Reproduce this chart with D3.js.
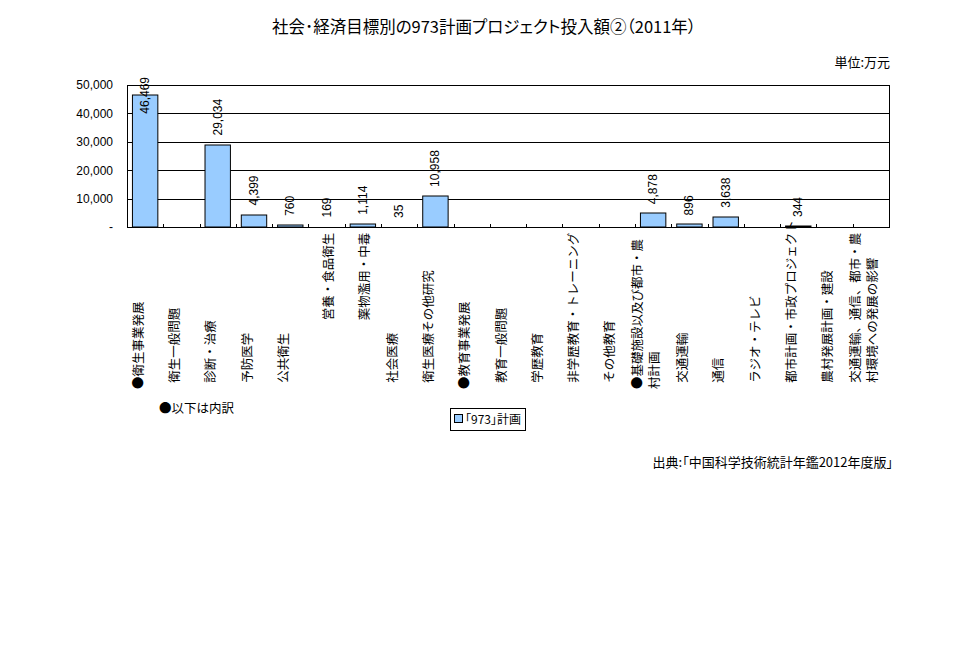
<!DOCTYPE html>
<html>
<head>
<meta charset="utf-8">
<script src="https://cdn.jsdelivr.net/npm/d3@7"></script>
<style>
    body { margin: 0; background: #fff; }
    svg text { font-family: "Noto Sans CJK JP", sans-serif; fill: #000; }
    .jp { font-feature-settings: "palt"; }
    .num { font-family: "Liberation Sans", Arial, sans-serif; }
</style>
</head>
<body>
<svg id="chart" width="960" height="650"></svg>
<script>
// labels as typed in the sheet (indent / line breaks kept)
var categories = [
    "●衛生事業発展",
    "\u2002衛生一般問題",
    "\u2002診断・治療",
    "\u2002予防医学",
    "\u2002公共衛生",
    "\n\u2002\u3000\u3000\u3000\u3000\u3000営養・食品衛生",
    "\n\u2002\u3000\u3000\u3000\u3000\u3000薬物濫用・中毒",
    "\u2002社会医療",
    "\u2002衛生医療その他研究",
    "●教育事業発展",
    "\u2002教育一般問題",
    "\u2002学歴教育",
    "\u2002非学歴教育・トレーニング",
    "\u2002その他教育",
    "●基礎施設以及び都市・農\n村計画",
    "\u2002交通運輸",
    "\u2002通信",
    "\u2002ラジオ・テレビ",
    "\u2002都市計画・市政プロジェクト",
    "\u2002農村発展計画・建設",
    "\u2002交通運輸、通信、都市・農\n\u2002村環境への発展の影響"
];
var values973 = [46469, null, 29034, 4399, 760, 169, 1114, 35, 10958,
                 null, null, null, null, null,
                 4878, 896, 3638, null, 344, null, null];
var yTicks = [0, 10000, 20000, 30000, 40000, 50000];
var seriesName = "「973」計画";
var titleText = "社会･経済目標別の973計画プロジェクト投入額②（2011年）";
var unitText = "単位:万元";
var noteText = "●以下は内訳";
var sourceText = "出典:「中国科学技術統計年鑑2012年度版」";

var svg = d3.select("#chart");
var plot = { left: 127, right: 889, top: 85, bottom: 227 };
var barColor = "#99ccff";

var x = d3.scaleBand()
    .domain(d3.range(categories.length))
    .range([plot.left, plot.right])
    .paddingInner(0.3)
    .paddingOuter(0.15);
var y = d3.scaleLinear().domain([0, 50000]).range([plot.bottom, plot.top]);
var fmt = d3.format(",");

// titles
svg.append("text").attr("class", "jp")
    .attr("x", 484).attr("y", 33).attr("text-anchor", "middle")
    .style("font-size", "16.5px").text(titleText);
svg.append("text").attr("class", "jp")
    .attr("x", 890).attr("y", 67).attr("text-anchor", "end")
    .style("font-size", "13px").text(unitText);
svg.append("text").attr("class", "jp")
    .attr("x", 893).attr("y", 467).attr("text-anchor", "end")
    .style("font-size", "13px").text(sourceText);
svg.append("text").attr("class", "jp")
    .attr("x", 159).attr("y", 413)
    .style("font-size", "12.5px").text(noteText);

// grid + y labels
var yAxis = d3.axisLeft(y)
    .tickValues(yTicks)
    .tickSize(-(plot.right - plot.left))
    .tickPadding(14)
    .tickFormat(function(d){ return d === 0 ? "-" : fmt(d); });
var gy = svg.append("g")
    .attr("transform", "translate(" + plot.left + ",0)")
    .call(yAxis);
gy.select(".domain").remove();
gy.selectAll(".tick line")
    .attr("stroke", "#000")
    .attr("shape-rendering", "crispEdges");
gy.selectAll(".tick text")
    .attr("class", "num")
    .style("font-size", "12px")
    .attr("fill", "#000");

svg.append("rect")
    .attr("x", plot.left).attr("y", plot.top)
    .attr("width", plot.right - plot.left)
    .attr("height", plot.bottom - plot.top)
    .attr("fill", "none").attr("stroke", "#000")
    .attr("shape-rendering", "crispEdges");

// category boundary ticks (inside)
var half = x.step() * x.paddingInner() / 2;
svg.append("g").selectAll("line")
    .data(d3.range(1, categories.length))
    .join("line")
    .attr("x1", function(i){ return Math.round(x(i) - half) + 0.5; })
    .attr("x2", function(i){ return Math.round(x(i) - half) + 0.5; })
    .attr("y1", plot.bottom).attr("y2", plot.bottom - 3)
    .attr("stroke", "#000");

// bars (heights rounded to whole pixels like the sheet does)
var barData = values973.map(function(v, i){ return { i: i, v: v }; })
    .filter(function(d){ return d.v != null; });

svg.append("g").selectAll("rect")
    .data(barData.filter(function(d){ return Math.round(y(0) - y(d.v)) > 0; }))
    .join("rect")
    .attr("x", function(d){ return x(d.i); })
    .attr("width", x.bandwidth())
    .attr("y", function(d){ return y(0) - Math.round(y(0) - y(d.v)); })
    .attr("height", function(d){ return Math.round(y(0) - y(d.v)); })
    .attr("fill", barColor)
    .attr("stroke", "#000")
    .attr("stroke-width", 1);

// value labels, rotated
svg.append("g").selectAll("text")
    .data(barData)
    .join("text")
    .attr("class", "num")
    .style("font-size", "12px")
    .attr("dominant-baseline", "central")
    .text(function(d){ return fmt(d.v); })
    .attr("transform", function(d){
        var len = this.getComputedTextLength();
        var b = Math.max(y(d.v) - 9, 77 + len);
        return "translate(" + (x(d.i) + x.bandwidth() / 2) + "," + b + ") rotate(-90)";
    });

// category labels, rotated, may be several lines
var lineH = 17;
var gl = svg.append("g");
categories.forEach(function(lab, i){
    var lines = lab.split("\n");
    var cx = x(i) + x.bandwidth() / 2 - 8;
    lines.forEach(function(ln, k){
        var lx = cx + (k - (lines.length - 1) / 2) * lineH;
        gl.append("text")
            .style("font-size", "12.5px")
            .style("white-space", "pre")
            .attr("dominant-baseline", "central")
            .attr("transform", "translate(" + lx + ",389) rotate(-90)")
            .text(ln);
    });
});

// legend
var lg = svg.append("g").attr("transform", "translate(450,408)");
var lgBox = lg.append("rect")
    .attr("x", 0.5).attr("y", 0.5).attr("height", 22)
    .attr("fill", "#fff").attr("stroke", "#000");
lg.append("rect")
    .attr("x", 4.5).attr("y", 6.5).attr("width", 8).attr("height", 8)
    .attr("fill", barColor).attr("stroke", "#000");
var lgText = lg.append("text").attr("class", "jp")
    .attr("x", 15).attr("y", 16)
    .style("font-size", "12px")
    .text(seriesName);
lgBox.attr("width", Math.max(75, 15 + lgText.node().getComputedTextLength() + 4));
</script>
</body>
</html>
